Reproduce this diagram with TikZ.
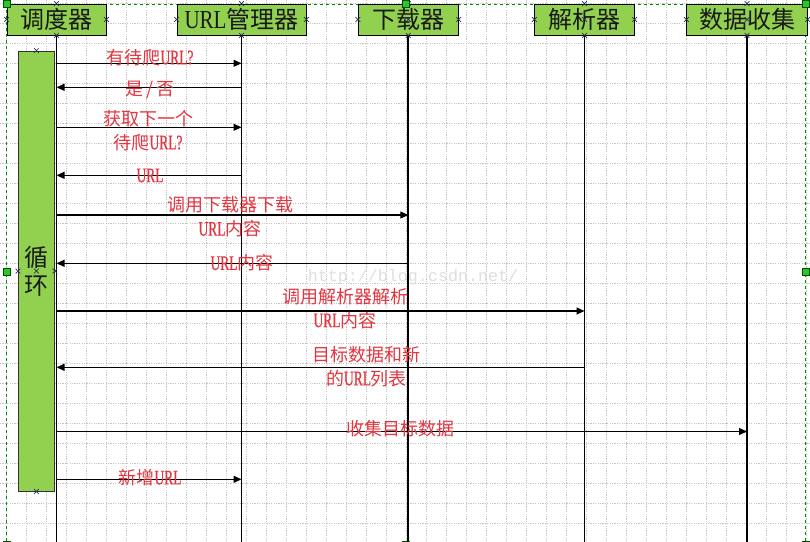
\documentclass[tikz,border=0pt]{standalone}
\usepackage{fontspec}
\usetikzlibrary{arrows.meta,shapes.misc}
\newfontfamily\cjk{Noto Sans CJK SC}
\newfontfamily\latnarrow[FakeStretch=0.65,Scale=1.15,FakeBold=0.6]{Liberation Serif}
\newfontfamily\latwide[FakeStretch=0.81,Scale=1.08]{Liberation Serif}
\newfontfamily\wmfont{Liberation Mono}
\newcommand\lurl{{\latnarrow URL}}
\newcommand\hurl{{\latwide URL}}
\definecolor{boxgreen}{RGB}{146,208,80}
\definecolor{labred}{RGB}{226,54,64}
\definecolor{selgreen}{RGB}{40,200,40}
\definecolor{markblue}{RGB}{40,50,90}
\begin{document}
\begin{tikzpicture}[x=1pt,y=-1pt,
 actor/.style={draw=black,line width=0.8pt,fill=boxgreen,minimum height=31pt,inner sep=0pt,font=\cjk\fontsize{24}{28}\selectfont,text=black!90},
 loopbox/.style={draw=black!80,line width=0.8pt,fill=boxgreen,minimum width=36pt,minimum height=440pt,inner sep=0pt,align=center,font=\cjk\fontsize{24}{28}\selectfont,text=black!90},
 lifeline/.style={line width=1.8pt},
 msg/.style={line width=1.1pt,-{Triangle[length=8pt,width=7pt]}},
 lab/.style={text=labred,font=\cjk\fontsize{18}{24}\selectfont,align=center,inner sep=0pt},
 gridline/.style={draw=gray!45,line width=0.6pt,dash pattern=on 1.2pt off 1.2pt},
 handle/.style={draw=green!30!black,fill=selgreen,minimum size=7pt,inner sep=0pt,line width=0.5pt},
 xmk/.style={cross out,draw=markblue,minimum size=4pt,inner sep=0pt,line width=0.7pt},
 selframe/.style={draw=green!55!black,dashed,line width=0.6pt}]

\useasboundingbox (0,0) rectangle (810,541);
\clip (0,0) rectangle (810,541);
\fill[white] (0,0) rectangle (810,541);

% grid
\foreach \i in {0,...,40} \draw[gridline] (6.7+20*\i,0) -- (6.7+20*\i,541);
\foreach \j in {0,...,27} \draw[gridline] (0,3.3+20*\j) -- (810,3.3+20*\j);

% watermark
\node[text=gray!25,font=\wmfont\fontsize{16.7}{20}\selectfont,inner sep=0pt] (wm) at (413,277) {http://blog.csdn.net/};

% selection frame
\draw[selframe] (6.7,4) rectangle (805.7,545);

% loop box
\node[loopbox] (loop) at (36.4,271) {循\\环};

% actors
\node[actor,minimum width=99pt] (sch) at (56.5,19.5) {调度器};
\node[actor,minimum width=129pt] (url) at (241.5,19.5) {\hurl 管理器};
\node[actor,minimum width=100pt] (dl) at (408.3,19.5) {下载器};
\node[actor,minimum width=99.6pt] (ps) at (584.5,19.5) {解析器};
\node[actor,minimum width=120.6pt] (dc) at (747,19.5) {数据收集};

% lifelines
\foreach \a in {sch,url,dl,ps,dc} {
  \coordinate (\a-end) at (\a.south |- 0,545);
  \draw[lifeline] (\a.south) -- (\a-end);
}

% messages
\draw[msg] (sch |- 0,63.3) -- (url |- 0,63.3);
\draw[msg] (url |- 0,87.3) -- (sch |- 0,87.3);
\draw[msg] (sch |- 0,127.3) -- (url |- 0,127.3);
\draw[msg] (url |- 0,175.3) -- (sch |- 0,175.3);
\draw[msg] (sch |- 0,215) -- (dl |- 0,215);
\draw[msg] (dl |- 0,263.3) -- (sch |- 0,263.3);
\draw[msg] (sch |- 0,311) -- (ps |- 0,311);
\draw[msg] (ps |- 0,367.3) -- (sch |- 0,367.3);
\draw[msg] (sch |- 0,431.5) -- (dc |- 0,431.5);
\draw[msg] (sch |- 0,479.3) -- (url |- 0,479.3);

% labels
\node[lab] (m1) at (150,57.5) {有待爬{\latnarrow URL?}};
\node[lab] (m2) at (150,90) {是\,/\,否};
\node[lab] (m3) at (148,130.5) {获取下一个\\待爬{\latnarrow URL?}};
\node[lab] (m4) at (150,175.5) {\lurl};
\node[lab] (m5) at (230,216.8) {调用下载器下载\\\lurl 内容};
\node[lab] (m6) at (242,263) {\lurl 内容};
\node[lab] (m7) at (345,308.3) {调用解析器解析\\\lurl 内容};
\node[lab] (m8) at (366.5,366.5) {目标数据和新\\的\lurl 列表};
\node[lab] (m9) at (400,428.5) {收集目标数据};
\node[lab] (m10) at (150,477.5) {新增\lurl};

% connection markers
\foreach \a in {sch,url,dl,ps,dc} {
  \node[xmk] (\a-xn) at (\a.north) {};
  \node[xmk] (\a-xs) at (\a.south) {};
  \node[xmk] (\a-xw) at (\a.west) {};
  \node[xmk] (\a-xe) at (\a.east) {};
  \node[xmk] (\a-xc) at (\a.center) {};
}
\node[xmk] (loop-xn) at (loop.north) {};
\node[xmk] (loop-xs) at (loop.south) {};
\node[xmk] (loop-xw) at (loop.west) {};
\node[xmk] (loop-xe) at (loop.east) {};
\node[xmk] (loop-xc) at (loop.center) {};

% selection handles
\node[handle] (h1) at (6.7,4) {};
\node[handle] (h2) at (406,4) {};
\node[handle] (h3) at (805.7,4) {};
\node[handle] (h4) at (6.7,272) {};
\node[handle] (h5) at (805.7,272) {};
\node[handle] (h6) at (6.7,545) {};
\node[handle] (h7) at (406,545) {};
\node[handle] (h8) at (805.7,545) {};
\end{tikzpicture}
\end{document}
